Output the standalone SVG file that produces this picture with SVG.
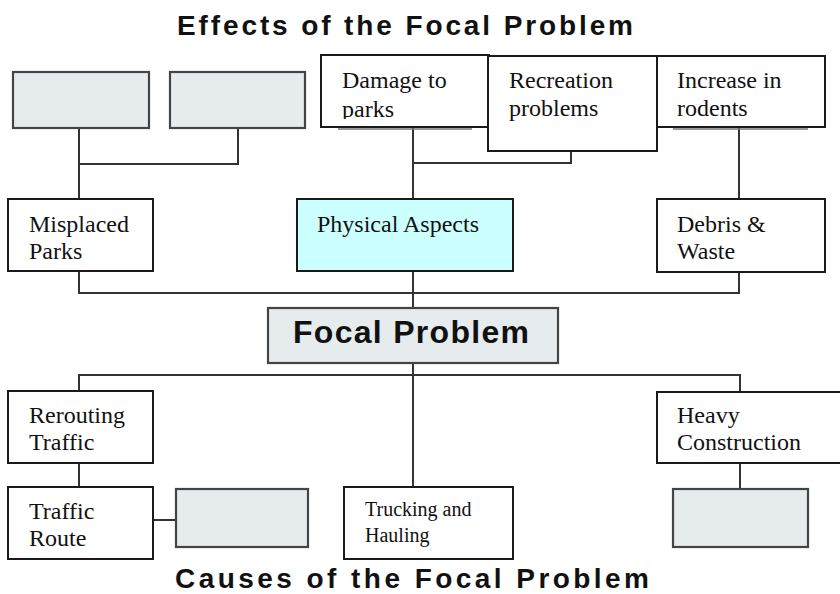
<svg xmlns="http://www.w3.org/2000/svg" width="840" height="594" viewBox="0 0 840 594">
<style>
.title{font-family:"Liberation Sans",Arial,sans-serif;font-weight:bold;font-size:28px;fill:#111}
.focal{font-family:"Liberation Sans",Arial,sans-serif;font-weight:bold;font-size:32px;fill:#111}
.lbl{font-family:"Liberation Serif","Times New Roman",serif;font-size:24px;fill:#111}
.sm{font-family:"Liberation Serif","Times New Roman",serif;font-size:20px;fill:#111}
.box{fill:#fff;stroke:#1a1a1a;stroke-width:2}
.grey{fill:#e6ecee;stroke:#444;stroke-width:2.2}
.cyan{fill:#ccffff;stroke:#1a1a1a;stroke-width:2}
.conn{fill:none;stroke:#333;stroke-width:2}
.shadow{stroke:#777;stroke-width:1.5}
</style>
<defs>
<clipPath id="clipDamage"><rect x="321" y="55" width="168" height="64"/></clipPath>
</defs>
<rect width="840" height="594" fill="#fff"/>
<text class="title" x="177" y="35" textLength="456" lengthAdjust="spacing">Effects of the Focal Problem</text>
<text class="title" x="175" y="588" textLength="474" lengthAdjust="spacing">Causes of the Focal Problem</text>
<g id="connectors">
<path class="conn" d="M79 128V199M238 128V164H79"/>
<path class="conn" d="M413 127V199M571 151V163H413"/>
<path class="conn" d="M739 127V199"/>
<path class="conn" d="M79 271V293H739V271M413 271V308"/>
<path class="conn" d="M413 363V487M79 391V375H740V391"/>
<path class="conn" d="M79 463V487M153 520H176M740 463V489"/>
</g>
<g id="effect-blank-1"><rect class="grey" x="13" y="72" width="136" height="56"/></g>
<g id="effect-blank-2"><rect class="grey" x="170" y="72" width="135" height="56"/></g>
<g id="damage">
<rect class="box" x="321" y="55" width="168" height="72"/>
<line class="shadow" x1="338" y1="129" x2="472" y2="129"/>
<g clip-path="url(#clipDamage)">
<text class="lbl" x="342" y="88">Damage to</text>
<text class="lbl" x="342" y="117">parks</text>
</g>
</g>
<g id="increase">
<rect class="box" x="657" y="56" width="168" height="71"/>
<line class="shadow" x1="673" y1="129" x2="808" y2="129"/>
<text class="lbl" x="677" y="88">Increase in</text>
<text class="lbl" x="677" y="116">rodents</text>
</g>
<g id="recreation">
<rect class="box" x="488" y="56" width="169" height="95"/>
<text class="lbl" x="509" y="88">Recreation</text>
<text class="lbl" x="509" y="116">problems</text>
</g>
<g id="misplaced">
<rect class="box" x="8" y="199" width="145" height="72"/>
<text class="lbl" x="29" y="232">Misplaced</text>
<text class="lbl" x="29" y="259">Parks</text>
</g>
<g id="physical">
<rect class="cyan" x="297" y="199" width="216" height="72"/>
<text class="lbl" x="317" y="232">Physical Aspects</text>
</g>
<g id="debris">
<rect class="box" x="657" y="199" width="168" height="73"/>
<text class="lbl" x="677" y="232">Debris &amp;</text>
<text class="lbl" x="677" y="259">Waste</text>
</g>
<g id="focal">
<rect class="grey" x="268" y="308" width="290" height="55"/>
<text class="focal" x="293" y="343" textLength="236" lengthAdjust="spacing">Focal Problem</text>
</g>
<g id="rerouting">
<rect class="box" x="8" y="391" width="145" height="72"/>
<text class="lbl" x="29" y="423">Rerouting</text>
<text class="lbl" x="29" y="450">Traffic</text>
</g>
<g id="heavy">
<rect class="box" x="657" y="392" width="190" height="71"/>
<text class="lbl" x="677" y="423">Heavy</text>
<text class="lbl" x="677" y="450">Construction</text>
</g>
<g id="traffic-route">
<rect class="box" x="8" y="487" width="145" height="72"/>
<text class="lbl" x="29" y="519">Traffic</text>
<text class="lbl" x="29" y="546">Route</text>
</g>
<g id="cause-blank-1"><rect class="grey" x="176" y="489" width="132" height="58"/></g>
<g id="trucking">
<rect class="box" x="344" y="487" width="169" height="72"/>
<text class="sm" x="365" y="516">Trucking and</text>
<text class="sm" x="365" y="542">Hauling</text>
</g>
<g id="cause-blank-2"><rect class="grey" x="673" y="489" width="135" height="58"/></g>
</svg>
